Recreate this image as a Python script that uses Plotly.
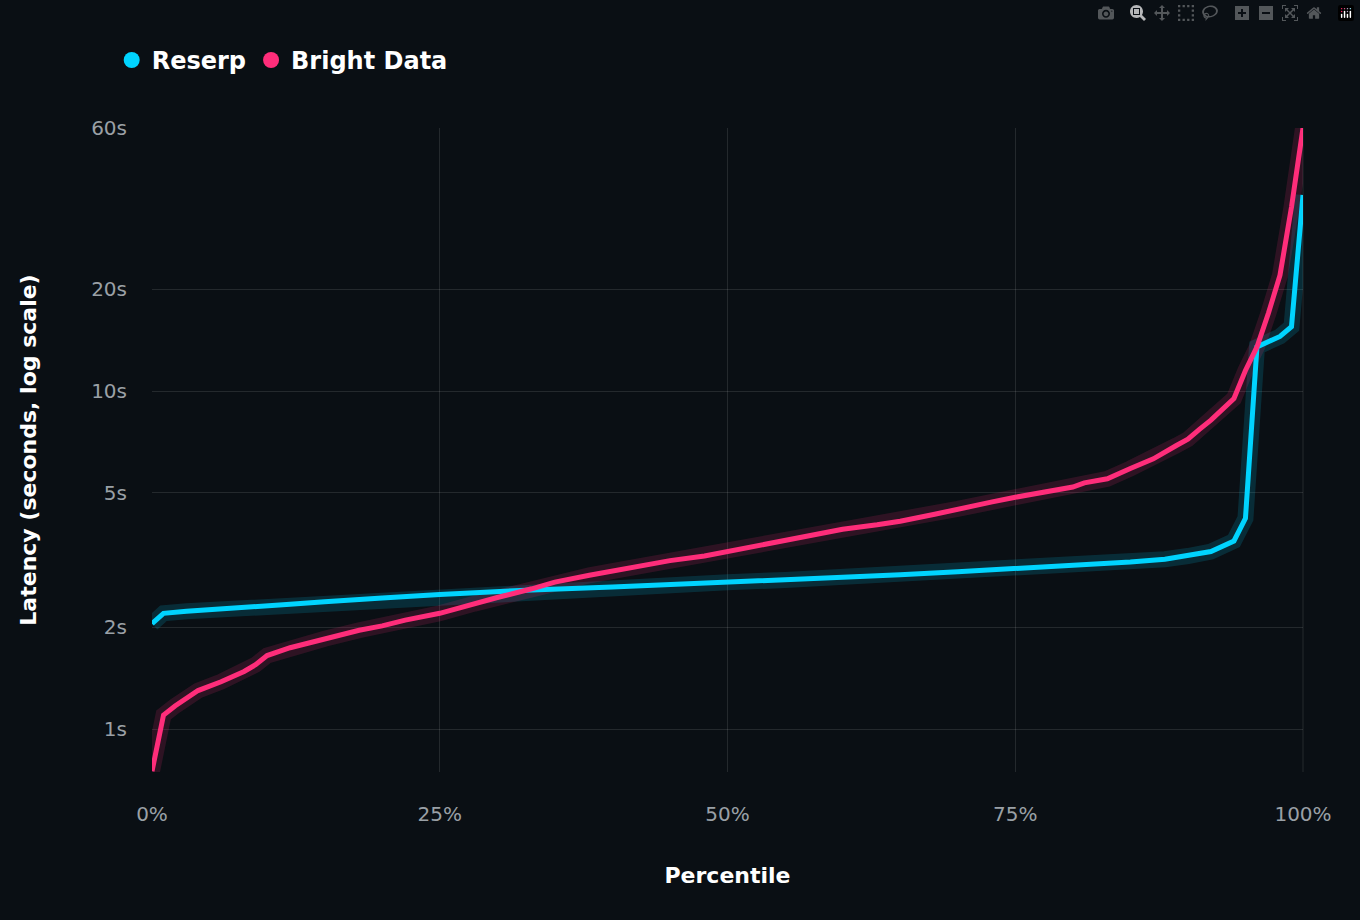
import plotly.graph_objs as go

# percentile points
reserp_pct = [0, 1, 3, 5, 8, 10, 12, 15, 17, 20, 25, 30, 33, 40, 45, 50, 55, 60, 65, 70, 75, 80, 85, 88, 90, 92, 94, 95, 96, 98, 99, 100]
reserp_sec = [2.05, 2.2, 2.23, 2.25, 2.28, 2.31, 2.34, 2.38, 2.41, 2.44, 2.5, 2.55, 2.58, 2.63, 2.67, 2.72, 2.76, 2.81, 2.86, 2.92, 2.98, 3.05, 3.12, 3.18, 3.25, 3.35, 3.6, 4.2, 13.5, 14.5, 15.5, 38]

bright_pct = [0, 1, 2, 4, 6, 8, 9, 10, 12, 15, 18, 20, 22, 25, 28, 30, 33, 35, 38, 40, 43, 45, 48, 50, 53, 55, 58, 60, 63, 65, 68, 70, 73, 75, 78, 80, 81, 83, 85, 87, 89, 90, 91, 92, 94, 95, 96, 97, 98, 99, 100]
bright_sec = [0.75, 1.1, 1.17, 1.3, 1.38, 1.48, 1.55, 1.65, 1.74, 1.85, 1.96, 2.02, 2.1, 2.2, 2.35, 2.45, 2.6, 2.72, 2.85, 2.93, 3.05, 3.15, 3.25, 3.35, 3.5, 3.6, 3.78, 3.9, 4.02, 4.12, 4.32, 4.48, 4.7, 4.85, 5.05, 5.2, 5.35, 5.5, 5.9, 6.3, 6.9, 7.2, 7.7, 8.2, 9.5, 11.5, 13.5, 17, 22, 35, 60]

tick_vals = [1, 2, 5, 10, 20, 60]
tick_text = ['1s', '2s', '5s', '10s', '20s', '60s']

cyan = '#00d4ff'
pink = '#ff2d7a'

series = [
    (reserp_pct, reserp_sec, cyan, 'rgba(0,212,255,0.15)', 'Reserp'),
    (bright_pct, bright_sec, pink, 'rgba(255,45,122,0.15)', 'Bright Data'),
]
traces = []
for x, y, c, glow, name in series:
    traces.append(go.Scatter(x=x, y=y, mode='lines', line={'color': glow, 'width': 16},
                             showlegend=False, hoverinfo='skip'))
for x, y, c, glow, name in series:
    traces.append(go.Scatter(x=x, y=y, mode='lines', name=name, showlegend=False,
                             line={'color': c, 'width': 5}))
# legend entries with round markers
for x, y, c, glow, name in series:
    traces.append(go.Scatter(x=[None], y=[None], mode='markers', name=name,
                             marker={'color': c, 'size': 16}))

grid = 'rgba(255,255,255,0.11)'
layout = go.Layout(
    width=1360, height=920,
    paper_bgcolor='#0a0f14', plot_bgcolor='rgba(0,0,0,0)',
    font={'family': 'DejaVu Sans', 'color': '#9aa0a6', 'size': 20},
    margin={'l': 152, 'r': 57, 't': 128, 'b': 148},
    legend={'orientation': 'h', 'x': -0.035, 'y': 1.105, 'xanchor': 'left', 'yanchor': 'middle',
            'font': {'color': 'white', 'size': 24, 'weight': 'bold'},
            'bgcolor': 'rgba(0,0,0,0)'},
    xaxis={'range': [0, 100], 'tickvals': [0, 25, 50, 75, 100],
           'ticktext': ['0%', '25%', '50%', '75%', '100%'],
           'gridcolor': grid, 'zeroline': False, 'showline': False,
           'ticklabelstandoff': 28,
           'title': {'text': 'Percentile', 'standoff': 42,
                     'font': {'color': 'white', 'size': 22, 'weight': 'bold'}}},
    yaxis={'type': 'log', 'range': [-0.127, 1.778], 'tickvals': tick_vals, 'ticktext': tick_text,
           'gridcolor': grid, 'zeroline': False, 'showline': False,
           'ticklabelstandoff': 24,
           'title': {'text': 'Latency (seconds, log scale)', 'standoff': 48,
                     'font': {'color': 'white', 'size': 22, 'weight': 'bold'}}},
)
fig = go.Figure(data=traces, layout=layout)
fig.add_shape(type='line', xref='paper', yref='paper', x0=1, x1=1, y0=0, y1=1,
              line={'color': grid, 'width': 1})
fig.write_html("out.html",
               post_script="document.body.style.margin='0';document.body.style.background='#0a0f14';")
